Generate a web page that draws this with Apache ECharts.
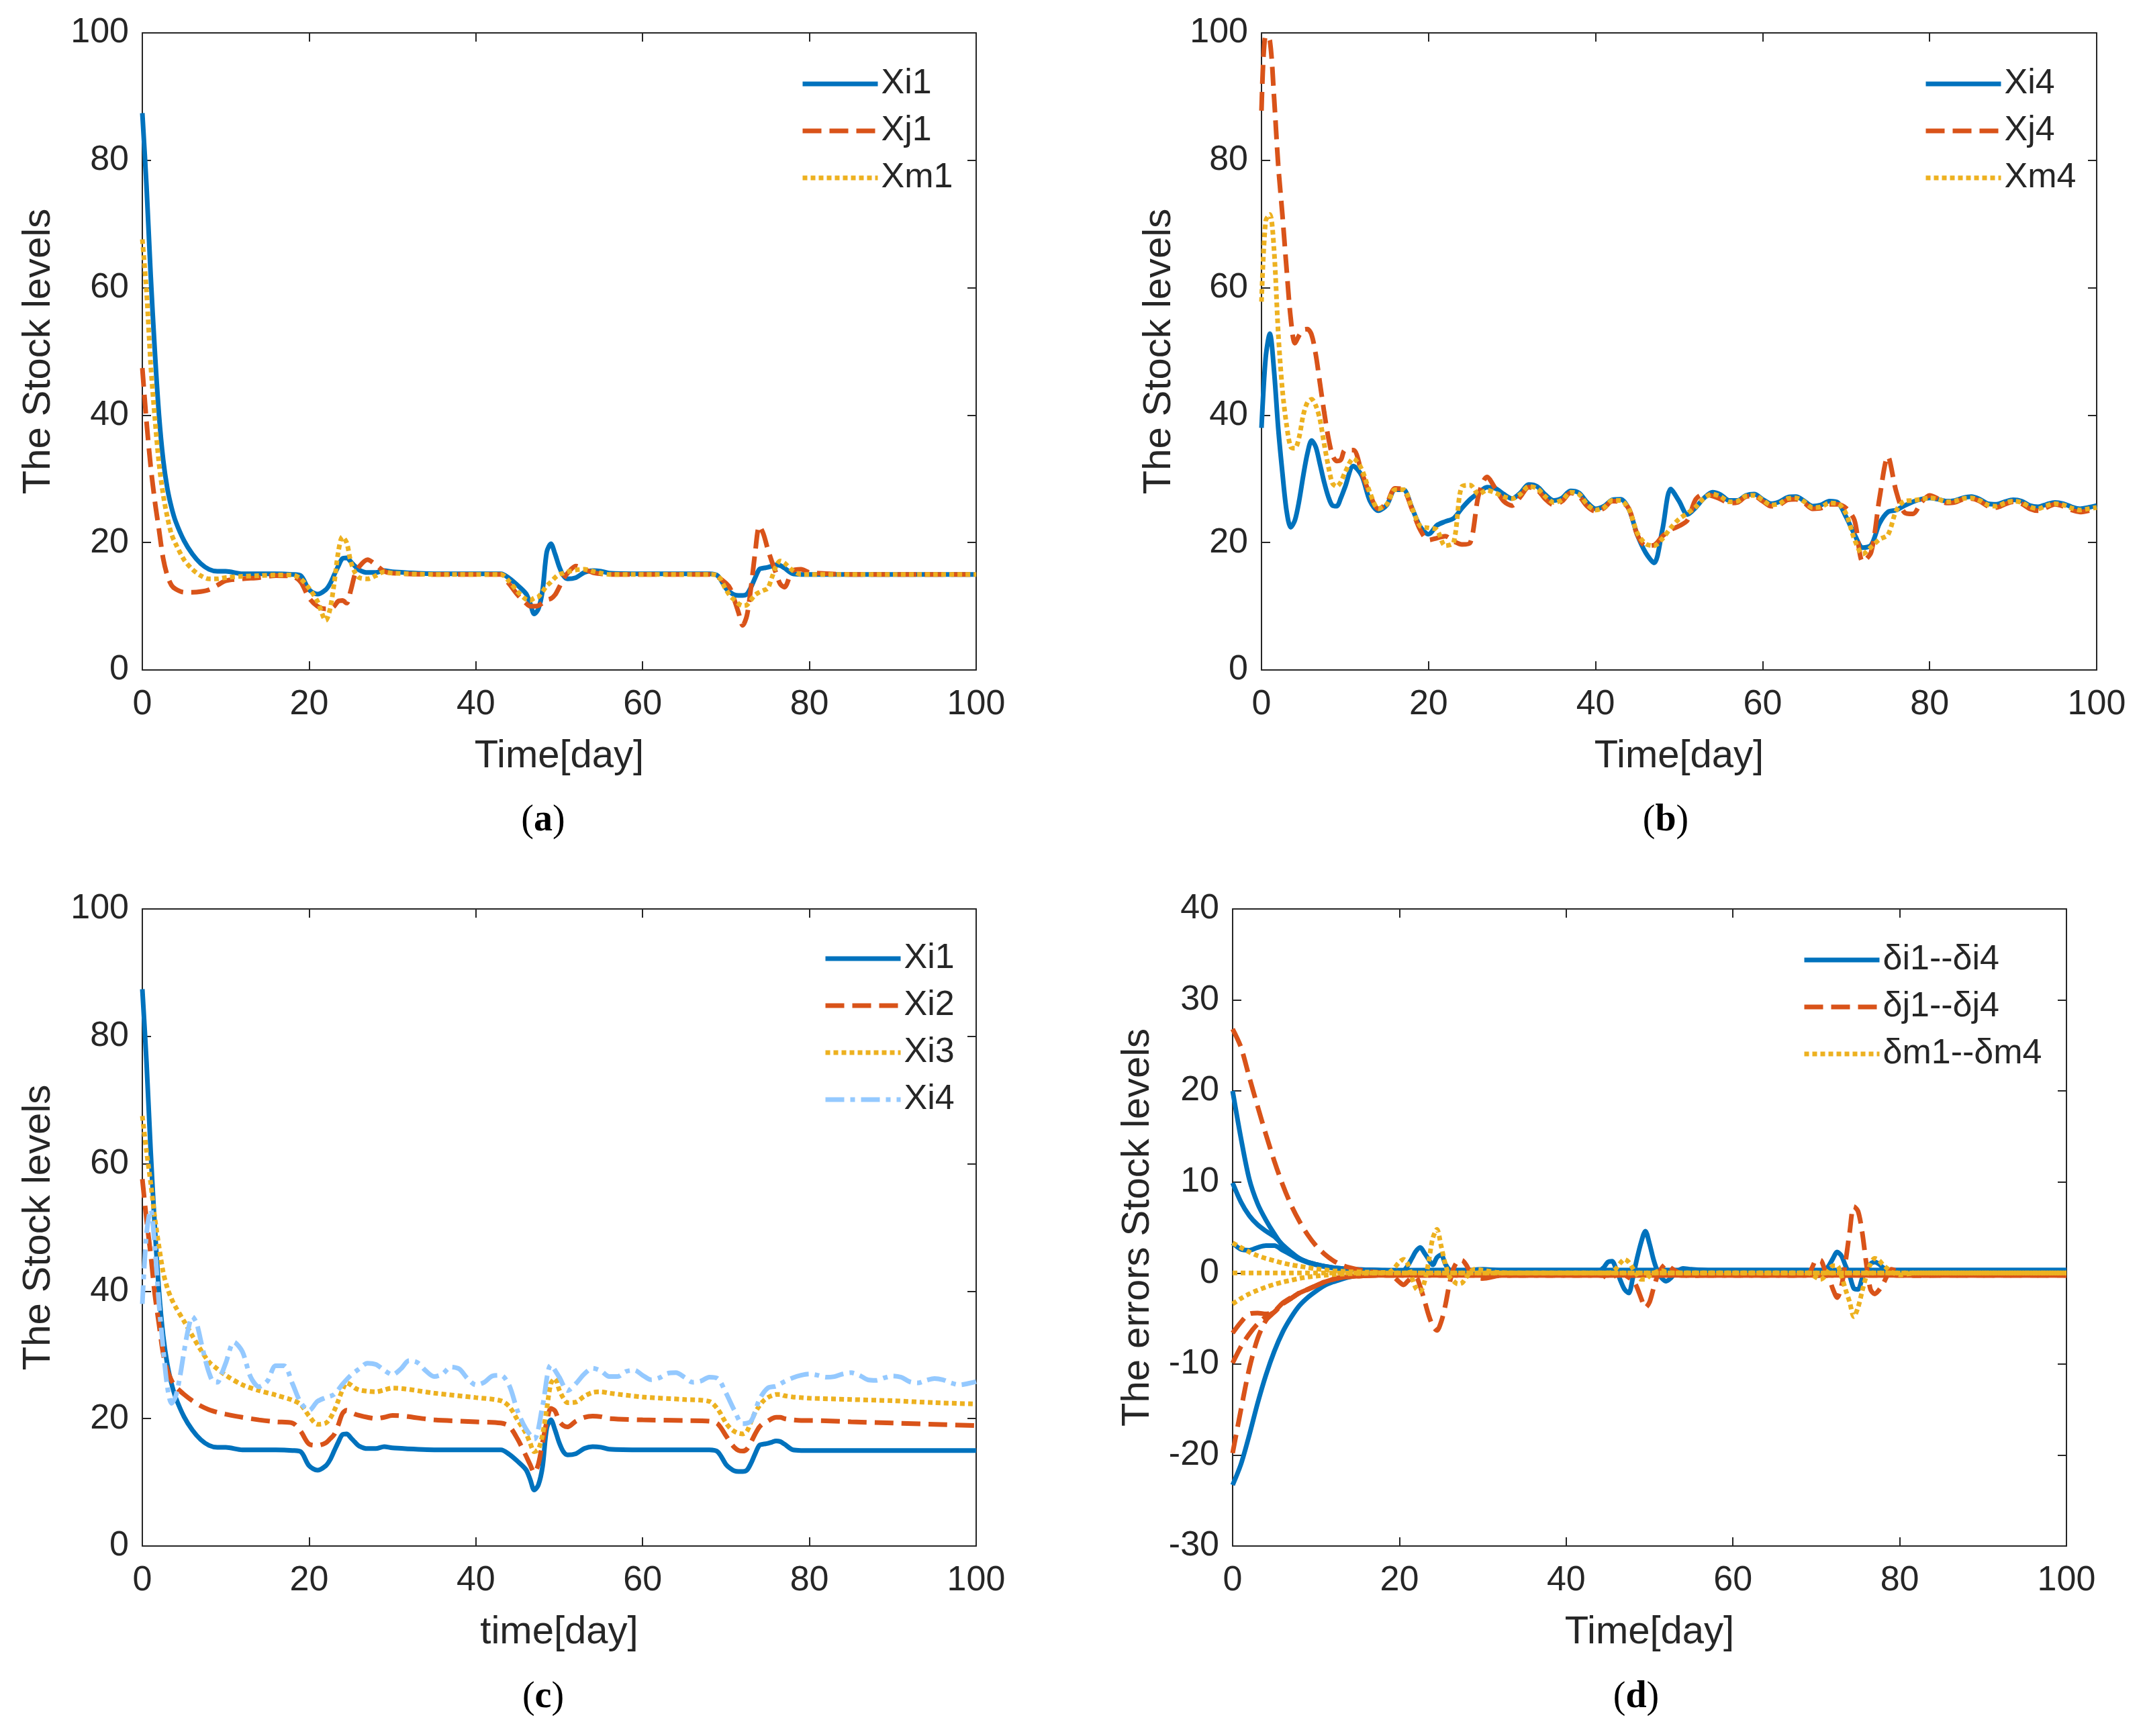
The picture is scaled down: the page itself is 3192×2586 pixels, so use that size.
<!DOCTYPE html>
<html style="height: 100%">
<head>
    <meta charset="utf-8">
    <script src="https://cdn.jsdelivr.net/npm/echarts@6/dist/echarts.min.js"></script>
</head>
<body style="height: 100%; margin: 0; background: #fff">
    <div id="container" style="width: 3192px; height: 2586px"></div>
    <script type="text/javascript">
        // time grids (days)
        var tA = [0, 0.5, 1, 1.5, 2, 2.5, 3, 3.5, 4,
            5, 6, 7, 8, 9, 10,
            12, 14, 16, 18,
            19, 20, 21, 22, 22.5, 23, 23.5, 24, 24.5, 25, 25.5, 26, 27, 28, 29, 30,
            35, 40, 43,
            44, 45, 46, 46.5, 47, 47.5, 48, 48.5, 49, 49.5, 50, 50.5, 51, 52, 53, 54, 55, 56,
            60, 65, 68,
            69, 70, 70.5, 71, 71.5, 72, 72.5, 73, 73.5, 74, 74.5, 75, 75.5, 76, 76.5, 77, 78, 79, 80,
            85, 90, 95, 100];

        var tB = [0, 0.5, 1, 1.5, 2, 2.5, 3, 3.5, 4, 4.5, 5, 5.5, 6, 6.5, 7, 7.5, 8, 8.5, 9, 9.5, 10,
            11, 12, 13, 14, 15, 16, 17, 18, 19, 20,
            21, 22, 23, 24, 25, 26, 27, 28, 29, 30,
            31, 32, 33, 34, 35, 36, 37, 38, 39, 40,
            41, 42, 43, 44, 45, 46, 47, 48, 49, 50,
            51, 52, 53, 54, 55, 56, 57, 58, 59, 60,
            61, 62, 63, 64, 65, 66, 67, 68, 69, 70,
            71, 72, 73, 74, 75, 76, 77, 78, 79, 80,
            81, 82, 83, 84, 85, 86, 87, 88, 89, 90,
            91, 92, 93, 94, 95, 96, 97, 98, 99, 100];

        var tD = [0, 1, 2, 3, 4, 5, 6, 7, 8, 9, 10, 11, 12, 13, 14,
            16, 18, 19,
            20, 20.5, 21, 21.5, 22, 22.5, 23, 23.5, 24, 24.5, 25, 25.5, 26, 26.5, 27, 27.5, 28, 28.5, 29,
            30, 32, 35, 40, 44,
            44.5, 45, 45.5, 46, 46.5, 47, 47.5, 48, 48.5, 49, 49.5, 50, 50.5, 51, 51.5, 52, 52.5, 53,
            54, 55, 57, 60, 65, 68, 69,
            69.5, 70, 70.5, 71, 71.5, 72, 72.5, 73, 73.5, 74, 74.5, 75, 75.5, 76, 76.5, 77, 77.5, 78, 78.5, 79,
            80, 82, 85, 90, 95, 100];

        var tE = [0, 1, 2, 3, 4, 5, 6, 7, 8, 9, 10, 11, 12, 13, 14, 16, 18, 20, 25, 30, 40, 50, 60, 70, 80, 90, 100];

        // (a) stock levels of product 1
        var xi1 = [87.4, 76, 62, 50, 40, 33, 28.5, 25.5, 23.3,
            20.3, 18.2, 16.7, 15.8, 15.5, 15.5,
            15.1, 15.1, 15.1, 15.0,
            14.8, 12.6, 11.9, 12.6, 13.5, 14.9, 16.3, 17.5, 17.6, 17, 16.3, 15.7, 15.3, 15.3, 15.6, 15.4,
            15.1, 15.1, 15.1,
            14.4, 13.3, 12, 10.5, 8.8, 9.6, 12.5, 18.5, 19.8, 18.2, 16.2, 14.8, 14.3, 14.5, 15.3, 15.6, 15.5, 15.2,
            15.1, 15.1, 15.1,
            14.8, 12.8, 12.2, 11.8, 11.7, 11.7, 11.9, 13, 14.5, 15.8, 16, 16.1, 16.3, 16.5, 16.4, 16, 15.1, 15, 15,
            15, 15, 15, 15];
        var xj1 = [47.4, 39, 32, 26.5, 22, 17.5, 14.8, 13.3, 12.7,
            12.2, 12.2, 12.3, 12.6, 13.3, 14,
            14.3, 14.5, 14.8, 14.7,
            13.8, 11.3, 10, 9.6, 9.6, 10, 10.8, 10.9, 10.5, 12.5, 15, 16.2, 17.3, 16.5, 15.5, 15.2,
            15, 15, 15,
            13.5, 11.8, 10.5, 10, 10, 10.1, 10.5, 11, 11.2, 11.8, 13, 14.3, 15.2, 16.3, 15.8, 15.3, 15.1, 15,
            15, 15, 15,
            14.6, 13.6, 12.8, 11, 9, 7, 8.5, 13, 18.5, 22.6, 21.3, 19, 17, 15.2, 13.5, 13, 15.6, 15.8, 15.3,
            15, 15, 15, 15];
        var xm1 = [67.6, 59.5, 48, 39.6, 32.4, 27.5, 24, 21.3, 19.8,
            17.3, 15.8, 14.8, 14.3, 14.3, 14.5,
            14.7, 14.8, 14.9, 14.9,
            14.3, 12.8, 10.8, 7.8, 9.5, 13.5, 18.5, 20.9, 20, 17, 15.3, 14.5, 14.3, 14.8, 15.4, 15.2,
            15, 15, 15,
            13.9, 12.3, 11.1, 10.9, 11.3, 11.5, 12.3, 13.2, 13.8, 14.5, 15, 15.2, 15.4, 15.7, 15.8, 15.5, 15.2, 15,
            15, 15, 15,
            14.8, 12.6, 11.6, 11, 10.4, 10.1, 10.2, 11, 11.8, 12.2, 12.5, 12.8, 14.5, 16.3, 17.1, 16.8, 15.6, 15, 15,
            15, 15, 15, 15];

        // (b) stock levels of product 4
        var xi4 = [38, 49, 52.8, 47, 38, 31, 25, 22.4, 23.5, 26.5, 30.5, 34, 36, 35, 32.3, 29.5, 27.2, 25.8, 25.7, 27, 28.7,
            32, 30.5, 26.5, 25, 25.9, 28.3, 28.3, 25.5, 22.5, 21.3,
            22.7, 23.3, 23.8, 25.4, 26.8, 27.8, 28.7, 28.5, 27.6, 26.9,
            27.8, 29.1, 28.8, 27.5, 26.6, 27, 28.1, 27.8, 26.3, 25.3,
            25.7, 26.7, 26.8, 25.2, 21.2, 18.4, 16.8, 22, 28.4, 26.5,
            24.4, 25.5, 27, 27.9, 27.5, 26.6, 26.6, 27.4, 27.6, 26.8,
            26.1, 26.4, 27.1, 27.2, 26.5, 25.7, 25.9, 26.5, 26.3, 24,
            21.3, 19.2, 19.6, 23, 24.8, 25.1, 25.8, 26.4, 26.8, 27,
            26.8, 26.5, 26.6, 27, 27.2, 26.8, 26.1, 26, 26.4, 26.7,
            26.5, 25.8, 25.6, 26, 26.3, 26.1, 25.6, 25.3, 25.5, 25.8];
        var xj4 = [87.8, 99.5, 98.8, 90, 79.3, 71.5, 63, 55.2, 51.3, 52.5, 53.4, 53.5, 52.6, 49.5, 45, 40.5, 36.5, 33.7, 32.8, 33, 34.5,
            34.5, 31, 27.5, 25.3, 26.2, 28.5, 28.3, 25.3, 22, 20.4,
            20.7, 21, 20.2, 19.7, 20, 27.5, 30.3, 28.5, 26.5, 25.8,
            27.2, 28.7, 28.3, 26.8, 25.9, 26.5, 27.8, 27.3, 25.7, 24.9,
            25.4, 26.5, 26.4, 25.3, 21.2, 19.5, 19.6, 21, 22, 22.6,
            23.5, 26.8, 27.6, 27.3, 26.8, 26.2, 26.3, 27.2, 27.3, 26.5,
            25.7, 25.9, 26.7, 26.8, 26.2, 25.3, 25.4, 26, 26, 25.4,
            23.5, 17, 18.5, 27, 33.5, 28, 24.7, 24.5, 26.3, 27.4,
            26.9, 26.2, 26.3, 26.8, 26.9, 26.5, 25.7, 25.5, 26, 26.4,
            26.1, 25.3, 25, 25.5, 26, 25.7, 25.1, 24.8, 25, 25.3];
        var xm4 = [57.8, 70.5, 71.5, 66, 53, 44, 38.5, 35, 34.8, 36.5, 40, 42, 42.5, 41.5, 39.3, 35.5, 32, 29.3, 28.8, 29.5, 31,
            33.2, 31.5, 27.8, 25.3, 26, 28.3, 28.3, 25.5, 22.6, 22.3,
            22, 19.5, 20, 28.8, 29, 27.6, 28.2, 27.8, 27.2, 26.9,
            27.6, 28.8, 28.5, 27.2, 26.3, 26.7, 27.9, 27.6, 26, 25.1,
            25.5, 26.6, 26.6, 25.2, 21.5, 19.8, 19.5, 20.6, 22.3, 23.7,
            24.6, 25.6, 27, 27.6, 27.2, 26.4, 26.5, 27.3, 27.4, 26.7,
            25.9, 26.1, 26.9, 27, 26.4, 25.5, 25.6, 26.2, 26.1, 24.5,
            20.5, 18.2, 19.3, 20.5, 21.2, 25, 26.5, 26.6, 26.8, 27,
            26.8, 26.4, 26.5, 26.9, 27, 26.6, 25.9, 25.7, 26.2, 26.5,
            26.3, 25.6, 25.3, 25.8, 26.1, 25.9, 25.4, 25.1, 25.3, 25.5];

        // (c) retailer i, products 2 and 3 (products 1 and 4 reuse xi1 / xi4)
        var xi2 = [57.6, 51.3, 45.8, 39.5, 34.8, 30.2, 27.6, 26, 25,
            23.8, 22.8, 22, 21.4, 21, 20.7,
            20.2, 19.8, 19.5, 19.3,
            18, 16, 15.8, 16.2, 16.8, 17.5, 19, 20.8, 21.3, 21, 20.7, 20.5, 20.2, 20, 20.2, 20.5,
            19.8, 19.5, 19.3,
            18.8, 16.8, 14.2, 12.8, 11.5, 12.9, 16.3, 19.5, 21.6, 21.2, 19.6, 18.9, 18.7, 19.6, 20.2, 20.4, 20.3, 20,
            19.8, 19.7, 19.6,
            19.2, 17.3, 16.3, 15.5, 15, 14.9, 15.2, 16.3, 17.6, 18.7, 19.3, 19.6, 20, 20.2, 20.2, 20, 19.8, 19.7, 19.7,
            19.5, 19.3, 19.1, 18.9];
        var xi3 = [67.5, 62, 57, 51.5, 47, 43, 40.5, 38.8, 37.5,
            35.3, 33, 30.8, 28.9, 27.8, 26.8,
            25.3, 24.4, 23.7, 22.9,
            22.2, 20.4, 19.1, 19.3, 20, 21.2, 22.8, 24.5, 25.6, 25.3, 24.8, 24.5, 24.3, 24.2, 24.5, 24.8,
            24, 23.3, 22.8,
            21.9, 19.8, 17.7, 16.2, 14.8, 15.2, 17.5, 21.5, 25.5, 26.3, 24.5, 23.2, 22.5, 22.6, 23.5, 24.1, 24.2, 24,
            23.4, 23, 22.7,
            21.5, 19.3, 18.5, 18, 17.7, 17.6, 18, 19.5, 21, 22, 22.8, 23.3, 23.6, 23.8, 23.8, 23.6, 23.4, 23.3, 23.2,
            23, 22.8, 22.5, 22.3];

        // (d) synchronisation errors
        var di1 = [20, 14.8, 10.3, 7.6, 5.8, 4.3, 3.0, 2.2, 1.6, 1.2, 0.95, 0.75, 0.6, 0.5, 0.4,
            0.35, 0.3, 0.25,
            -0.1, 0.2, 0.8, 1.6, 2.4, 2.8, 2.2, 1.5, 0.9, 1.7, 2.0, 1.0, 0.3, -0.1, -0.2, -0.2, 0, 0.2, 0.35,
            0.4, 0.3, 0.3, 0.3, 0.3,
            0.6, 1.2, 1.3, 0.4, -0.8, -1.8, -2.2, -0.5, 1.6, 3.4, 4.6, 3.2, 1.4, 0.1, -0.6, -0.9, -0.6, -0.1,
            0.5, 0.4, 0.3, 0.3, 0.3, 0.3, 0.3,
            0.1, -0.3, -0.2, 0.3, 0.8, 1.6, 2.3, 1.9, 0.8, -0.3, -1.7, -1.8, -0.6, 0.3, 1.0, 1.2, 1.0, 0.6, 0.4, 0.3,
            0.3, 0.3, 0.3, 0.3, 0.3, 0.3];
        var di2 = [9.9, 7.8, 6.3, 5.3, 4.6, 4.0, 3.1, 2.3, 1.6, 1.2, 0.95, 0.75, 0.6, 0.5, 0.42, 0.35, 0.3,
            0.3, 0.3, 0.3, 0.3, 0.3, 0.3, 0.3, 0.3, 0.3, 0.3];
        var di3 = [3.3, 2.6, 2.5, 2.8, 3.0, 3.0, 2.5, 2.0, 1.5, 1.15, 0.9, 0.7, 0.55, 0.45, 0.4, 0.35, 0.3,
            0.3, 0.3, 0.3, 0.3, 0.3, 0.3, 0.3, 0.3, 0.3, 0.3];
        var di4 = [-23.3, -21, -17.8, -14.3, -11.2, -8.6, -6.5, -4.9, -3.6, -2.7, -2.0, -1.4, -1.0, -0.7, -0.45, -0.1, 0.15,
            0.25, 0.3, 0.3, 0.3, 0.3, 0.3, 0.3, 0.3, 0.3, 0.3];
        var dj1 = [26.8, 24.8, 21.5, 18.3, 15.2, 12.3, 9.7, 7.5, 5.7, 4.2, 3.0, 2.1, 1.4, 0.9, 0.6,
            0.2, 0, -0.2,
            -1.0, -1.3, -0.9, -0.5, -0.5, -1.5, -3.0, -4.6, -5.8, -6.3, -5.4, -3.6, -1.2, 0.5, 1.3, 1.4, 0.9, 0.1, -0.4,
            -0.6, -0.3, -0.25, -0.25, -0.25,
            -0.3, -0.6, -0.5, -0.2, -0.1, -0.2, -0.5, -0.8, -1.6, -2.8, -3.8, -3.2, -1.6, -0.2, 0.6, 1.0, 0.6, 0.3,
            -0.2, -0.3, -0.25, -0.25, -0.25, -0.25, -0.2,
            0.6, 1.4, 1.4, 0.4, -0.5, -1.8, -2.7, -1.5, 1.2, 4.5, 7.3, 6.8, 4.5, 1.0, -1.8, -2.3, -1.9, -1.2, -0.3, 0.4,
            0.1, -0.3, -0.25, -0.25, -0.25, -0.25];
        var dj2 = [-6.6, -5.4, -4.5, -4.4, -4.5, -4.2, -3.3, -2.7, -2.2, -1.8, -1.4, -1.0, -0.7, -0.5, -0.4, -0.3, -0.25,
            -0.25, -0.25, -0.25, -0.25, -0.25, -0.25, -0.25, -0.25, -0.25, -0.25];
        var dj3 = [-9.9, -8.1, -6.7, -5.6, -4.8, -4.3, -3.4, -2.8, -2.2, -1.8, -1.4, -1.0, -0.7, -0.5, -0.4, -0.3, -0.25,
            -0.25, -0.25, -0.25, -0.25, -0.25, -0.25, -0.25, -0.25, -0.25, -0.25];
        var dj4 = [-19.8, -15, -10.5, -7.2, -5.2, -4.3, -3.4, -2.8, -2.2, -1.8, -1.4, -1.0, -0.7, -0.5, -0.4, -0.3, -0.25,
            -0.25, -0.25, -0.25, -0.25, -0.25, -0.25, -0.25, -0.25, -0.25, -0.25];
        var dm1 = [3.3, 2.8, 2.3, 1.9, 1.6, 1.35, 1.1, 0.9, 0.75, 0.6, 0.45, 0.35, 0.25, 0.2, 0.15,
            0.1, 0.05, 0.2,
            1.2, 1.5, 1.0, -0.5, -1.7, -2.0, -1.0, 1.2, 3.8, 4.8, 3.0, 1.0, -0.4, -0.9, -1.2, -1.1, -0.5, 0.1, 0.4,
            0.3, 0.05, 0, 0, 0,
            0, 0, 0.1, 0.5, 1.1, 1.5, 1.2, 0.5, -0.2, -0.7, -0.7, -0.3, 0, 0.2, 0.25, 0.1, 0, 0,
            0, 0, 0, 0, 0, 0, 0,
            -0.2, -0.5, -0.7, -0.4, 0.3, 0.8, 0.8, -0.3, -1.8, -3.2, -4.8, -3.8, -2.0, -0.3, 1.0, 1.6, 1.4, 0.9, 0.5, 0.1,
            -0.2, 0, 0, 0, 0, 0];
        var dm2 = [0, 0, 0, 0, 0, 0, 0, 0, 0, 0, 0, 0, 0, 0, 0, 0, 0,
            0, 0, 0, 0, 0, 0, 0, 0, 0, 0];
        var dm3 = [-3.4, -2.8, -2.3, -1.9, -1.55, -1.25, -1.0, -0.8, -0.6, -0.45, -0.35, -0.25, -0.18, -0.12, -0.08, -0.04, 0,
            0, 0, 0, 0, 0, 0, 0, 0, 0, 0];

        var yTicksStock = [0, 100, 20];
        var yTicksErr = [-30, 40, 10];

        var FONT = 'Liberation Sans, Arial, Helvetica, sans-serif';
        var INK = '#262626';
        var BLUE = '#0072BD', ORANGE = '#D95319', YELLOW = '#EDB120', LIGHT = '#94C9FF';
        var LW = 7;
        var SOLID = 'solid', DASH = [28, 12], DOT = [7, 5], DASHDOT = [28, 9, 7, 9];

        function pts(t, v, tag) {
            if (t.length !== v.length) throw new Error(tag + ': ' + t.length + ' vs ' + v.length);
            return t.map(function (x, i) { return [x, v[i]]; });
        }

        var grids = [
            { left: 212, top: 49, width: 1242, height: 949 },
            { left: 1879, top: 49, width: 1244, height: 949 },
            { left: 212, top: 1354, width: 1242, height: 949 },
            { left: 1836, top: 1354, width: 1242, height: 949 }
        ];

        var lineAxis = { onZero: false, lineStyle: { color: INK, width: 2 } };
        var tick = { inside: true, length: 13, lineStyle: { color: INK, width: 2 } };
        var label = { fontSize: 52, color: INK, fontFamily: FONT };
        var nameStyle = { fontSize: 58, color: INK, fontFamily: FONT };

        var xAxes = [], yAxes = [];
        var xNames = ['Time[day]', 'Time[day]', 'time[day]', 'Time[day]'];
        var yNames = ['The Stock levels', 'The Stock levels', 'The Stock levels', 'The errors Stock levels'];
        var yGaps = [125, 123, 125, 112];
        for (var g = 0; g < 4; g++) {
            var yr = g === 3 ? yTicksErr : yTicksStock;
            xAxes.push({
                type: 'value', gridIndex: g, min: 0, max: 100, interval: 20, position: 'bottom',
                name: xNames[g], nameLocation: 'middle', nameGap: 100, nameTextStyle: nameStyle,
                axisLine: lineAxis, axisTick: tick, splitLine: { show: false },
                axisLabel: Object.assign({ margin: 26 }, label)
            });
            xAxes.push({
                type: 'value', gridIndex: g, min: 0, max: 100, interval: 20, position: 'top',
                axisLine: lineAxis, axisTick: tick, splitLine: { show: false }, axisLabel: { show: false }
            });
            yAxes.push({
                type: 'value', gridIndex: g, min: yr[0], max: yr[1], interval: yr[2], position: 'left',
                name: yNames[g], nameLocation: 'middle', nameGap: yGaps[g], nameTextStyle: nameStyle,
                axisLine: lineAxis, axisTick: tick, splitLine: { show: false },
                axisLabel: Object.assign({ margin: 20 }, label)
            });
            yAxes.push({
                type: 'value', gridIndex: g, min: yr[0], max: yr[1], interval: yr[2], position: 'right',
                axisLine: lineAxis, axisTick: tick, splitLine: { show: false }, axisLabel: { show: false }
            });
        }

        function line(name, g, data, color, type) {
            return {
                name: name, type: 'line', xAxisIndex: 2 * g, yAxisIndex: 2 * g,
                data: data, symbol: 'none', showSymbol: false, smooth: 0.3,
                lineStyle: { color: color, width: LW, type: type, cap: 'butt' },
                itemStyle: { color: color },
                silent: true
            };
        }

        var series = [
            line('a:Xi1', 0, pts(tA, xi1, 'xi1'), BLUE, SOLID),
            line('a:Xj1', 0, pts(tA, xj1, 'xj1'), ORANGE, DASH),
            line('a:Xm1', 0, pts(tA, xm1, 'xm1'), YELLOW, DOT),

            line('b:Xi4', 1, pts(tB, xi4, 'xi4'), BLUE, SOLID),
            line('b:Xj4', 1, pts(tB, xj4, 'xj4'), ORANGE, DASH),
            line('b:Xm4', 1, pts(tB, xm4, 'xm4'), YELLOW, DOT),

            line('c:Xi1', 2, pts(tA, xi1, 'xi1'), BLUE, SOLID),
            line('c:Xi2', 2, pts(tA, xi2, 'xi2'), ORANGE, DASH),
            line('c:Xi3', 2, pts(tA, xi3, 'xi3'), YELLOW, DOT),
            line('c:Xi4', 2, pts(tB, xi4, 'xi4'), LIGHT, DASHDOT),

            line('d:δi1--δi4', 3, pts(tD, di1, 'di1'), BLUE, SOLID),
            line('d:di2', 3, pts(tE, di2, 'di2'), BLUE, SOLID),
            line('d:di3', 3, pts(tE, di3, 'di3'), BLUE, SOLID),
            line('d:di4', 3, pts(tE, di4, 'di4'), BLUE, SOLID),
            line('d:δj1--δj4', 3, pts(tD, dj1, 'dj1'), ORANGE, DASH),
            line('d:dj2', 3, pts(tE, dj2, 'dj2'), ORANGE, DASH),
            line('d:dj3', 3, pts(tE, dj3, 'dj3'), ORANGE, DASH),
            line('d:dj4', 3, pts(tE, dj4, 'dj4'), ORANGE, DASH),
            line('d:δm1--δm4', 3, pts(tD, dm1, 'dm1'), YELLOW, DOT),
            line('d:dm2', 3, pts(tE, dm2, 'dm2'), YELLOW, DOT),
            line('d:dm3', 3, pts(tE, dm3, 'dm3'), YELLOW, DOT)
        ];

        function legend(left, top, names) {
            return {
                orient: 'vertical', left: left, top: top, data: names,
                itemWidth: 112, itemHeight: 40, itemGap: 18, selectedMode: false,
                formatter: function (n) { return n.slice(2); },
                itemStyle: { opacity: 0, borderWidth: 0 },
                lineStyle: { width: LW },
                textStyle: { fontSize: 52, lineHeight: 52, color: INK, fontFamily: FONT }
            };
        }

        function caption(x, y, letter) {
            return {
                type: 'text', x: x, y: y,
                style: {
                    text: '({l|' + letter + '})', fontSize: 56, fontFamily: 'Liberation Serif, Times New Roman, serif',
                    fill: '#000', textAlign: 'center', textVerticalAlign: 'middle',
                    rich: { l: { fontSize: 56, fontWeight: 'bold', fontFamily: 'Liberation Serif, Times New Roman, serif' } }
                }
            };
        }

        var chart = echarts.init(document.getElementById('container'));
        chart.setOption({
            animation: false,
            backgroundColor: '#ffffff',
            grid: grids,
            xAxis: xAxes,
            yAxis: yAxes,
            legend: [
                legend(1187, 94, ['a:Xi1', 'a:Xj1', 'a:Xm1']),
                legend(2860, 94, ['b:Xi4', 'b:Xj4', 'b:Xm4']),
                legend(1221, 1397, ['c:Xi1', 'c:Xi2', 'c:Xi3', 'c:Xi4']),
                legend(2679, 1399, ['d:δi1--δi4', 'd:δj1--δj4', 'd:δm1--δm4'])
            ],
            series: series,
            graphic: [
                caption(809, 1223, 'a'),
                caption(2481, 1223, 'b'),
                caption(809, 2529, 'c'),
                caption(2437, 2529, 'd')
            ]
        });
    </script>
</body>
</html>
